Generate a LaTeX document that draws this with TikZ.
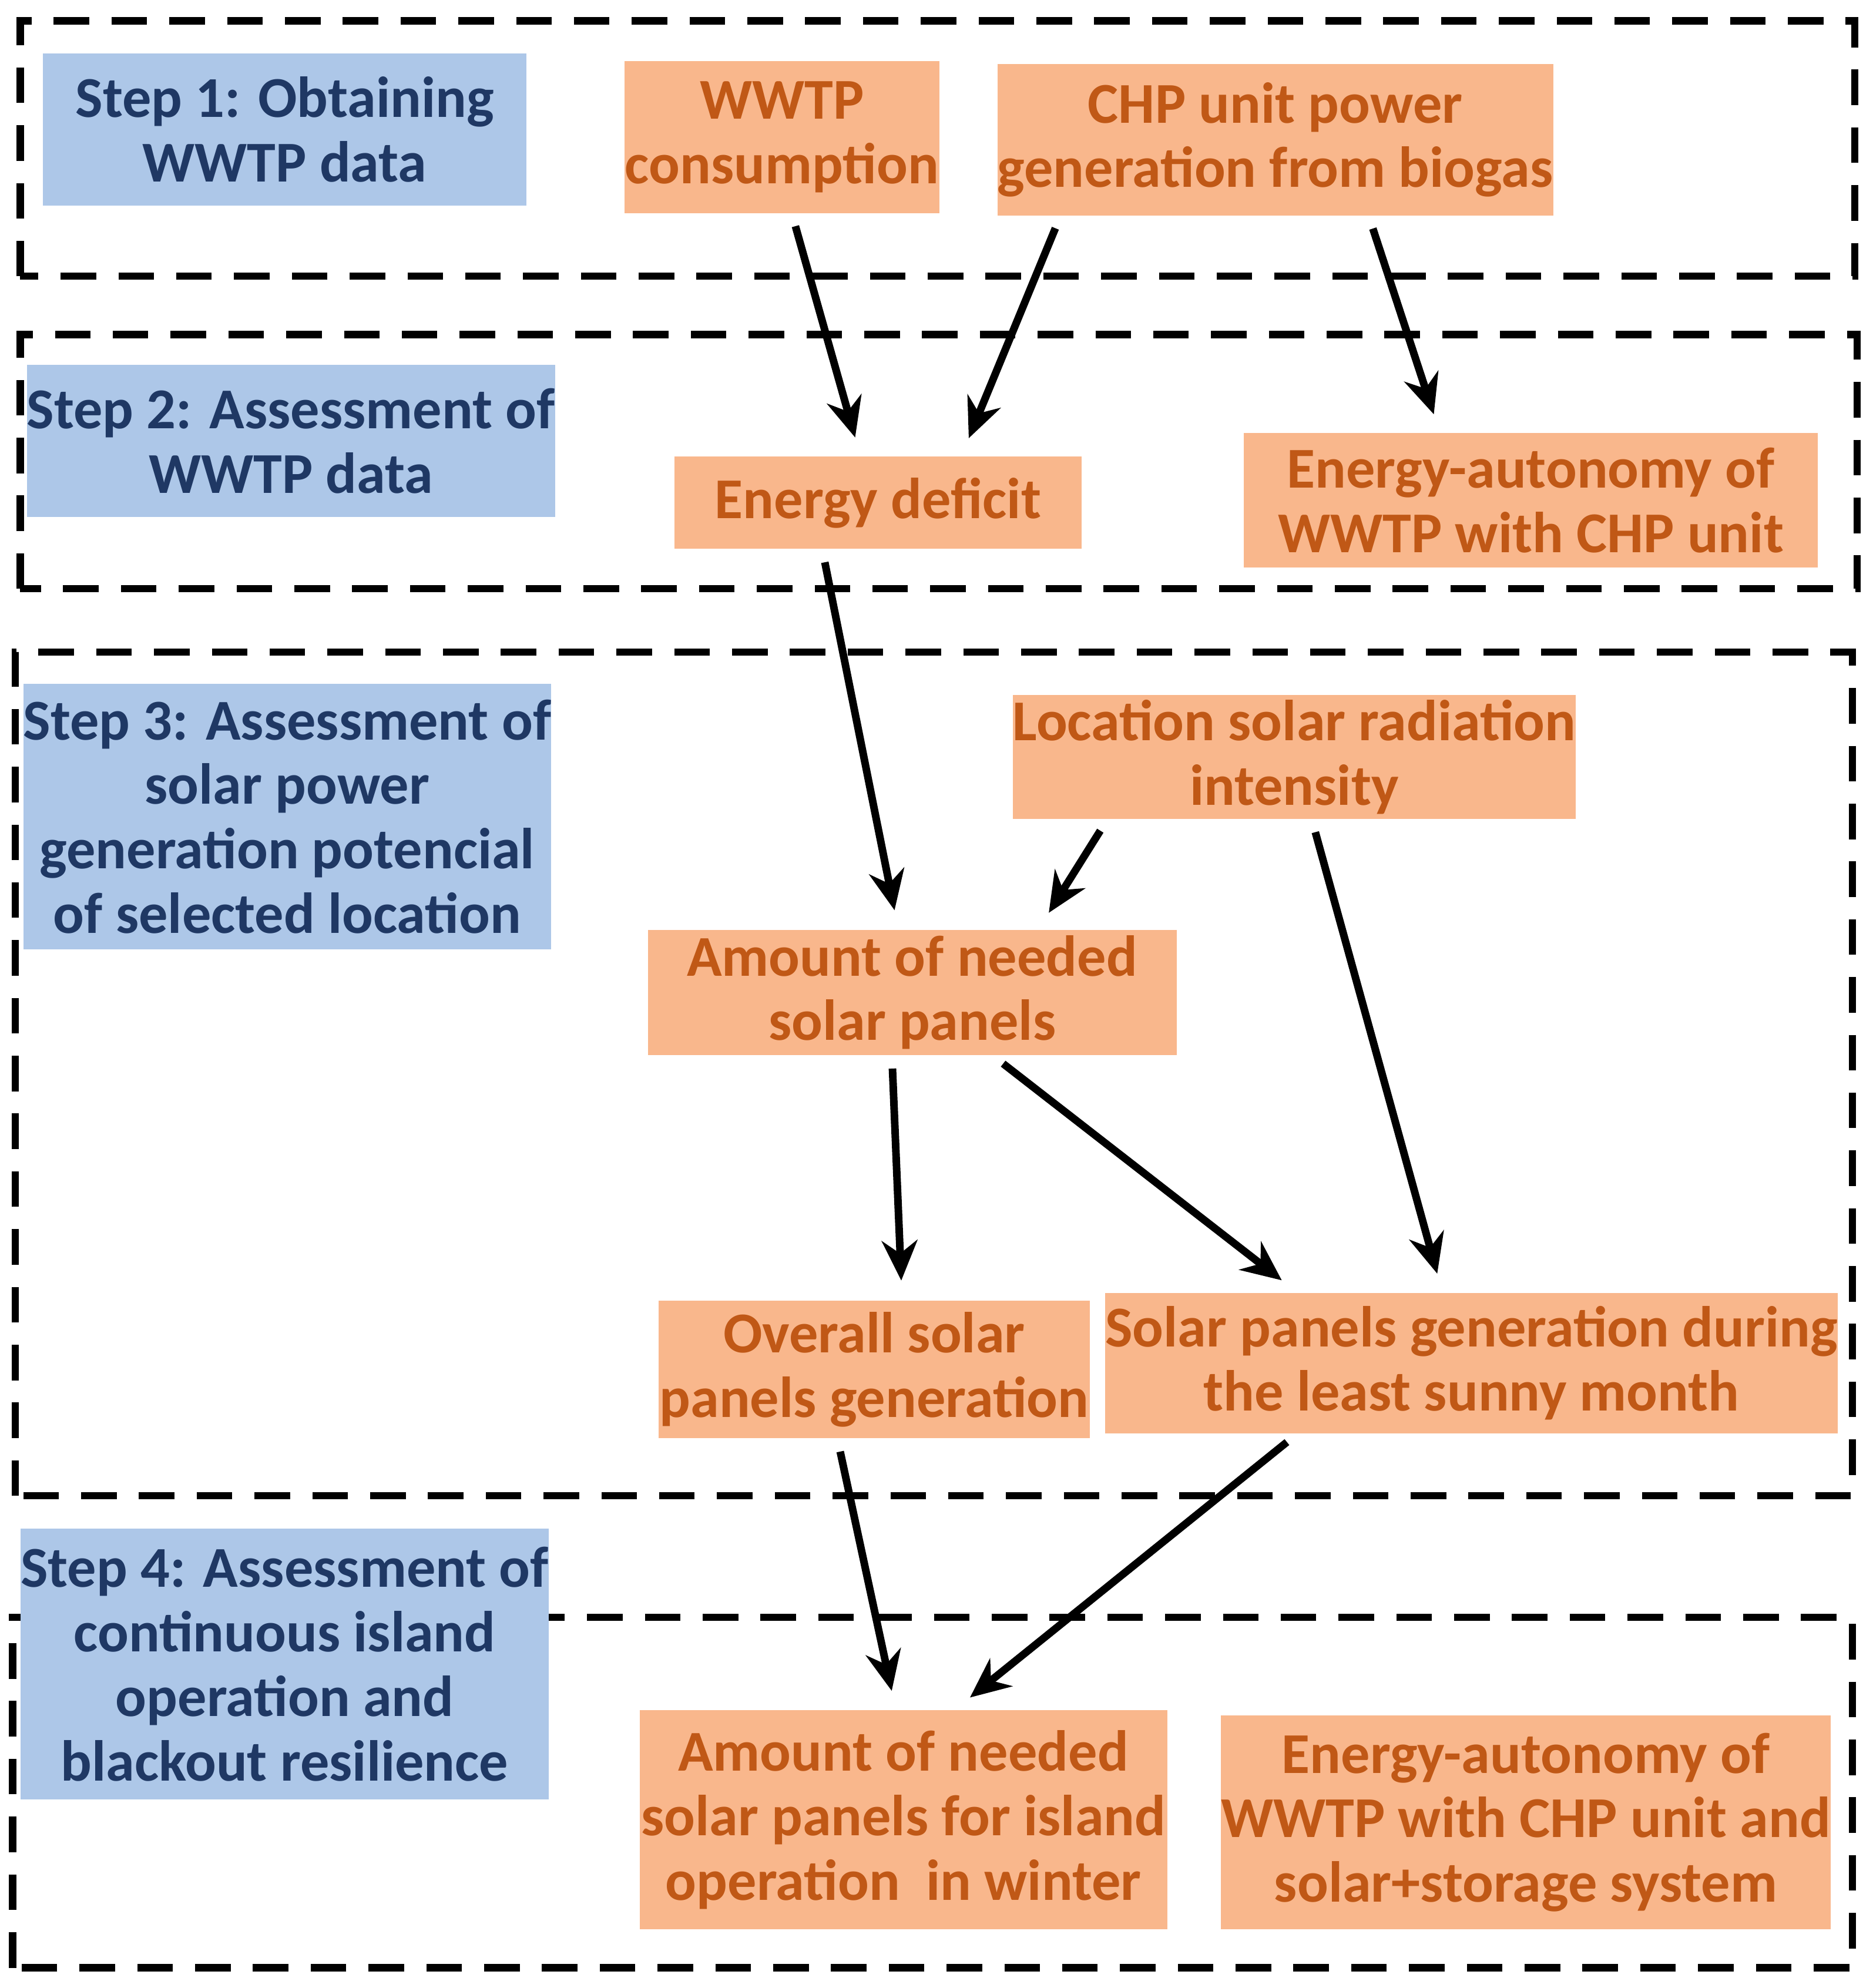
\documentclass[tikz,border=0pt]{standalone}
\usepackage{fontspec}
\setmainfont{Carlito}
\usetikzlibrary{arrows.meta}
\definecolor{stepblue}{RGB}{173,199,232}
\definecolor{steptext}{RGB}{31,56,100}
\definecolor{taskorange}{RGB}{249,183,140}
\definecolor{tasktext}{RGB}{192,88,22}

\tikzset{
  frame/.style={draw, dashed, line width=1.6pt, dash pattern=on 8pt off 5pt},
  stagebox/.style={fill=stepblue, text=steptext, align=center, font=\bfseries\fontsize{13}{14.5}\selectfont, inner sep=0pt},
  task/.style={fill=taskorange, text=tasktext, align=center, font=\bfseries\fontsize{13}{14.5}\selectfont, inner sep=0pt},
  flow/.style={-{Stealth[length=9pt,width=8pt]}, line width=1.7pt, shorten <=0.1cm, shorten >=0.15cm}
}

\begin{document}
\begin{tikzpicture}[x=1cm,y=1cm]
    \useasboundingbox (0,0) rectangle (14.8,15.715);

    % dashed stage frames
    \draw[frame] (0.16,13.53) rectangle (14.66,15.55);
    \draw[frame] (0.16,11.06) rectangle (14.68,13.07);
    \draw[frame] (0.12,3.89) rectangle (14.64,10.56);
    \draw[frame] (0.10,0.16) rectangle (14.64,2.93);

    % step labels
    \node[stagebox, minimum width=3.82cm, minimum height=1.2cm] (step1) at (2.25,14.69) {Step 1: Obtaining\\WWTP data};
    \node[stagebox, minimum width=3.84cm, minimum height=1.2cm] (step2) at (2.30,12.23) {Step 2: Assessment of\\WWTP data};
    \node[stagebox, minimum width=3.82cm, minimum height=2.1cm] (step3) at (2.27,9.26) {Step 3: Assessment of\\solar power\\generation potencial\\of selected location};
    \node[stagebox, minimum width=3.82cm, minimum height=2.14cm] (step4) at (2.25,2.56) {Step 4: Assessment of\\continuous island\\operation and\\blackout resilience};

    % tasks
    \node[task, minimum width=2.49cm, minimum height=1.2cm] (wwtp) at (6.18,14.63) {WWTP\\consumption};
    \node[task, minimum width=4.28cm, minimum height=1.2cm] (chp) at (10.08,14.61) {CHP unit power\\generation from biogas};
    \node[task, minimum width=3.22cm, minimum height=0.73cm] (deficit) at (6.94,11.74) {Energy deficit};
    \node[task, minimum width=4.54cm, minimum height=1.06cm] (auto1) at (12.10,11.76) {Energy-autonomy of\\WWTP with CHP unit};
    \node[task, minimum width=4.17cm, minimum height=0.98cm] (location) at (10.23,9.73) {Location solar radiation\\intensity};
    \node[task, minimum width=4.18cm, minimum height=0.99cm] (panels) at (7.21,7.87) {Amount of needed\\solar panels};
    \node[task, minimum width=3.41cm, minimum height=1.09cm] (overall) at (6.91,4.89) {Overall solar\\panels generation};
    \node[task, minimum width=5.37cm, minimum height=1.11cm] (least) at (11.63,4.94) {Solar panels generation during\\the least sunny month};
    \node[task, minimum width=4.17cm, minimum height=1.73cm] (island) at (7.14,1.33) {Amount of needed\\solar panels for island\\operation\ \ in winter};
    \node[task, minimum width=4.51cm, minimum height=1.69cm] (auto2) at (12.06,1.31) {Energy-autonomy of\\WWTP with CHP unit and\\solar+storage system};

    % connectors
    \draw[flow] ([xshift=0.08cm]wwtp.south) -- ([xshift=-0.14cm]deficit.north);
    \draw[flow] ([xshift=-1.7cm]chp.south) -- ([xshift=0.66cm]deficit.north);
    \draw[flow] ([xshift=0.74cm]chp.south) -- ([xshift=-0.72cm]auto1.north);
    \draw[flow] ([xshift=-0.44cm]deficit.south) -- ([xshift=-0.11cm]panels.north);
    \draw[flow] ([xshift=-1.48cm]location.south) -- ([xshift=1.0cm]panels.north);
    \draw[flow] ([xshift=0.14cm]location.south) -- ([xshift=-0.23cm]least.north);
    \draw[flow] ([xshift=-0.16cm]panels.south) -- ([xshift=0.22cm]overall.north);
    \draw[flow] ([xshift=0.64cm]panels.south) -- ([xshift=-1.38cm]least.north);
    \draw[flow] ([xshift=-0.29cm]overall.south) -- ([xshift=-0.06cm]island.north);
    \draw[flow] ([xshift=-1.38cm]least.south) -- ([xshift=0.41cm]island.north);
\end{tikzpicture}
\end{document}
